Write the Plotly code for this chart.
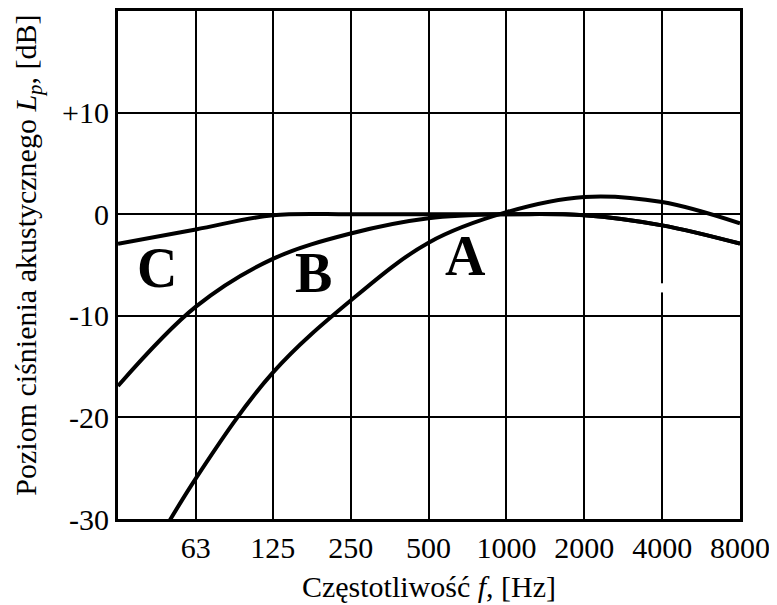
import plotly.graph_objects as go
import math

# Frequencies (Hz) and weighting levels (dB)
freq = [31.5, 63, 125, 250, 500, 1000, 2000, 4000, 8000]
level_A = [-39.0, -26.0, -15.6, -8.5, -2.8, 0.2, 1.7, 1.2, -0.9]
level_B = [-16.9, -9.1, -4.4, -1.9, -0.4, 0.0, -0.1, -1.1, -2.9]
level_C = [-2.9, -1.5, -0.1, 0.0, 0.0, 0.0, -0.1, -1.1, -2.9]

x_tick_vals = [63, 125, 250, 500, 1000, 2000, 4000, 8000]
x_tick_text = ["63", "125", "250", "500", "1000", "2000", "4000", "8000"]
y_tick_vals = [-30, -20, -10, 0, 10]
y_tick_text = ["-30", "-20", "-10", "0", "+10"]

curve_labels = ["C", "B", "A"]
label_freq = [44.6, 179, 693]
label_level = [-5.3, -5.8, -4.1]

x_title = "Częstotliwość <i>f</i>, [Hz]"
y_title = "Poziom ciśnienia akustycznego <i>L<sub>p</sub></i>, [dB]"

FONT = "Times New Roman, Liberation Serif, serif"
TICKFONT = dict(family=FONT, size=30, color="black")
TITLEFONT = dict(family=FONT, size=30, color="black")

fig = go.Figure()
for l, name in [(level_A, "A"), (level_B, "B"), (level_C, "C")]:
    fig.add_trace(go.Scatter(
        x=freq, y=l, mode="lines", name=name,
        line=dict(color="black", width=4, shape="spline", smoothing=1.0),
        showlegend=False, hoverinfo="skip",
    ))

for txt, fx, ly in zip(curve_labels, label_freq, label_level):
    fig.add_annotation(
        x=math.log10(fx), y=ly, xref="x", yref="y", text="<b>" + txt + "</b>",
        showarrow=False, font=dict(family=FONT, size=56, color="black"),
    )

# y-axis title placed as a rotated annotation
fig.add_annotation(
    x=-0.145, y=0.52, xref="paper", yref="paper", text=y_title, textangle=-90,
    showarrow=False, xanchor="center", yanchor="middle", font=TITLEFONT,
)

# small break in the 4000 Hz gridline seen in the original scan
fig.add_shape(type="rect", xref="x", yref="y", x0=3900, x1=4100, y0=-7.7, y1=-6.8,
              fillcolor="white", line=dict(width=0), layer="between")

# page body has an 8px default margin, so the figure is sized to fit the window
fig.update_layout(
    width=769, height=597,
    margin=dict(l=110, r=37, t=0, b=86),
    paper_bgcolor="white", plot_bgcolor="white",
    font=dict(family=FONT, size=30, color="black"),
)
fig.update_xaxes(
    type="log", range=[math.log10(31.5), math.log10(8000)],
    tickvals=x_tick_vals, ticktext=x_tick_text, tickfont=TICKFONT,
    showgrid=True, gridcolor="black", gridwidth=2,
    showline=True, linecolor="black", linewidth=3, mirror=True,
    ticks="", zeroline=False,
    title=dict(text=x_title, font=TITLEFONT, standoff=13),
)
fig.update_yaxes(
    range=[-30, 20],
    tickvals=y_tick_vals, ticktext=y_tick_text, tickfont=TICKFONT,
    showgrid=True, gridcolor="black", gridwidth=2,
    showline=True, linecolor="black", linewidth=3, mirror=True,
    ticks="", zeroline=False,
)

fig.write_html("out.html")
